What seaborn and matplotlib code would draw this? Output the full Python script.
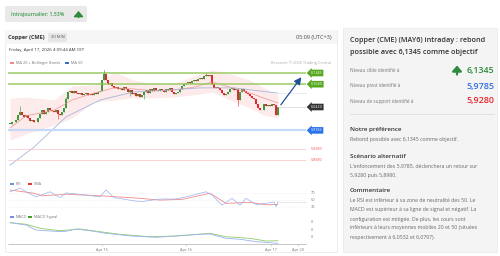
import numpy as np
import pandas as pd
import seaborn as sns
import matplotlib.pyplot as plt
from matplotlib.patches import FancyBboxPatch, Rectangle

sns.set_theme(style="white")
plt.rcParams['font.family'] = ['Open Sans', 'DejaVu Sans']

# ---- data ----
closes = [5.997, 6.002, 6.000, 6.008, 6.019, 6.028, 6.019, 6.014, 6.019, 6.011,
          6.005, 6.008, 6.002, 6.000, 6.011, 6.024, 6.033, 6.022, 6.028, 6.038,
          6.035, 6.031, 6.028, 6.033, 6.024, 6.019, 6.028, 6.038, 6.064, 6.083,
          6.086, 6.080, 6.086, 6.080, 6.078, 6.080, 6.075, 6.078, 6.080, 6.075,
          6.078, 6.075, 6.080, 6.078, 6.083, 6.086, 6.116, 6.133, 6.116, 6.105,
          6.107, 6.099, 6.094, 6.097, 6.091, 6.094, 6.088, 6.097, 6.091, 6.083,
          6.088, 6.078, 6.080, 6.072, 6.078, 6.069, 6.075, 6.083, 6.088, 6.080,
          6.091, 6.086, 6.094, 6.088, 6.086, 6.091, 6.088, 6.083, 6.091, 6.088,
          6.094, 6.083, 6.078, 6.080, 6.083, 6.091, 6.099, 6.105, 6.107, 6.110,
          6.107, 6.113, 6.116, 6.113, 6.118, 6.121, 6.118, 6.126, 6.128, 6.126,
          6.128, 6.105, 6.094, 6.097, 6.094, 6.088, 6.080, 6.075, 6.078, 6.083,
          6.091, 6.094, 6.088, 6.091, 6.061, 6.083, 6.091, 6.086, 6.080, 6.078,
          6.072, 6.067, 6.064, 6.050, 6.038, 6.033, 6.035, 6.050, 6.045, 6.048,
          6.045, 6.050, 6.048, 6.019, 6.042]
wick_high = {5: 6.045, 47: 6.152, 28: 6.070, 98: 6.134}
wick_low = {24: 6.010, 60: 6.072, 114: 6.045, 67: 6.064}

ma_idx = [0, 8, 22, 31, 42, 52, 62, 72, 82, 92, 101, 110, 120, 127, 134]
ma20 = [5.985, 6.018, 6.033, 6.061, 6.080, 6.094, 6.091, 6.086, 6.088, 6.096,
        6.110, 6.096, 6.080, 6.066, 6.053]
bb_upper = [6.066, 6.069, 6.061, 6.099, 6.102, 6.137, 6.115, 6.105, 6.105, 6.126,
            6.143, 6.132, 6.115, 6.094, 6.075]
bb_lower = [5.952, 5.969, 5.993, 6.012, 6.056, 6.061, 6.067, 6.067, 6.069, 6.075,
            6.083, 6.061, 6.039, 6.020, 6.012]
ma50_idx = [0, 12, 28, 45, 62, 78, 95, 112, 134]
ma50 = [5.884, 5.933, 6.015, 6.061, 6.083, 6.088, 6.094, 6.094, 6.0797]

last_price = 6.0420
target, resist = 6.1345, 6.1040
pivot = 5.9785
supports = [5.9280, 5.8980]

rsi_idx = [0, 5, 8, 13, 20, 25, 28, 38, 45, 48, 52, 62, 66, 75, 83, 88, 98, 101,
           106, 111, 115, 118, 123, 128, 132, 133, 134]
rsi_vals = [72, 82, 72, 58, 72, 56, 69, 63, 58, 77, 56, 47, 45, 52, 52, 58, 72, 63,
            35, 54, 35, 54, 37, 40, 44, 31, 45]
sma_idx = [0, 12, 16, 28, 45, 65, 75, 86, 100, 108, 120, 128, 134]
sma_vals = [77, 68, 61, 65, 61, 54, 49, 51, 68, 40, 43, 36, 37]

macd_idx = [0, 8, 13, 20, 27, 33, 41, 48, 61, 73, 83, 95, 100, 108, 115, 123, 134]
macd_vals = [0.0191, 0.016, 0.0093, 0.008, 0.0071, 0.0107, 0.008, 0.0049, 0.0013,
             -0.0004, 0.0013, 0.0036, 0.004, -0.0018, -0.003, -0.0062, -0.0084]
signal_idx = [0, 8, 15, 25, 35, 45, 55, 70, 82, 100, 108, 120, 128, 134]
signal_vals = [0.0191, 0.017, 0.0116, 0.0084, 0.0107, 0.0071, 0.0036, 0.0004,
               0.0013, 0.0049, 0.0004, -0.0018, -0.0053, -0.0049]

date_pos = [46, 88, 130.5, 144]
date_labels = ["Apr 15", "Apr 16", "Apr 17", "Apr 20"]

W, H = 500, 256
fig = plt.figure(figsize=(5, 2.56), dpi=100)
fig.patch.set_facecolor("white")


def box(x0, y0, x1, y1):
    return [x0 / W, 1 - y1 / H, (x1 - x0) / W, (y1 - y0) / H]


def up_arrow(axis, x, y0, y1, col, lw):
    axis.annotate("", xy=(x, y0), xytext=(x, y1),
                  arrowprops=dict(arrowstyle="-|>,head_width=0.7,head_length=0.8",
                                  mutation_scale=4, lw=lw, color=col,
                                  shrinkA=0, shrinkB=0))


# overlay in pixel coordinates
ov = fig.add_axes([0, 0, 1, 1], zorder=0)
ov.set_xlim(0, W)
ov.set_ylim(H, 0)
ov.axis("off")

# badge
ov.add_patch(FancyBboxPatch((5, 6), 82, 16, boxstyle="round,pad=0,rounding_size=2",
                            fc="#e9e9e9", ec="none"))
ov.text(11, 14.3, "Intrajournalier: 1,53%", fontsize=3.7, color="#3d9a4f",
        fontweight="semibold", va="center")
up_arrow(ov, 78.5, 11, 17.5, "#2e8b3d", 1.1)

# left panel
ov.add_patch(Rectangle((5, 30), 332, 222, fc="white", ec="#e6e6e6", lw=0.5))
ov.add_patch(Rectangle((5, 30), 332, 14, fc="#f6f6f6", ec="none"))
ov.text(8, 37.5, "Copper (CME)", fontsize=4, fontweight="bold", color="#333333", va="center")
ov.add_patch(FancyBboxPatch((48, 33), 19, 9, boxstyle="round,pad=0,rounding_size=1",
                            fc="#e6e6e6", ec="none"))
ov.text(57.5, 37.5, "30 MIN", fontsize=3, color="#555555", ha="center", va="center")
ov.text(332, 37.5, "05:09 (UTC+3)", fontsize=4, color="#444444", ha="right", va="center")
ov.text(9, 49.5, "Friday, April 17, 2026 4:09:44 AM CET", fontsize=3.2, color="#333333",
        va="center")
ov.add_patch(Rectangle((10, 62), 4, 2, fc="#f28b82", ec="none"))
ov.text(16, 63, "MA 20 + Bollinger Bands", fontsize=2.8, color="#777777", va="center")
ov.add_patch(Rectangle((65, 62), 4, 2, fc="#3b6cc7", ec="none"))
ov.text(71, 63, "MA 50", fontsize=2.8, color="#777777", va="center")
ov.text(331, 63, "Research \u00a9 2026 Trading Central", fontsize=2.8, color="#aaaaaa",
        ha="right", va="center")

# RSI / MACD legends
ov.add_patch(Rectangle((10, 183), 4, 2, fc="#6f8fe0", ec="none"))
ov.text(16, 184, "RSI", fontsize=2.8, color="#777777", va="center")
ov.add_patch(Rectangle((28, 183), 4, 2, fc="#e53935", ec="none"))
ov.text(34, 184, "SMA", fontsize=2.8, color="#777777", va="center")
ov.add_patch(Rectangle((10, 216), 4, 2, fc="#6f8fe0", ec="none"))
ov.text(16, 217, "MACD", fontsize=2.8, color="#777777", va="center")
ov.add_patch(Rectangle((28, 216), 4, 2, fc="#43a01f", ec="none"))
ov.text(34, 217, "MACD Signal", fontsize=2.8, color="#777777", va="center")

# right panel
ov.add_patch(Rectangle((343, 28), 154, 224, fc="#f4f4f4", ec="#e8e8e8", lw=0.5))
ov.text(350, 40, "Copper (CME) (MAY6) intraday : rebond", fontsize=5.2,
        fontweight="semibold", color="#333333", va="center")
ov.text(350, 52, "possible avec 6,1345 comme objectif", fontsize=5.2,
        fontweight="semibold", color="#333333", va="center")
rows = [("Niveau cible identifi\u00e9 \u00e0", "6,1345", "#2e8b3d", 70),
        ("Niveau pivot identifi\u00e9 \u00e0", "5,9785", "#2f6fe0", 86),
        ("Niveau de support identifi\u00e9 \u00e0", "5,9280", "#e8262b", 101)]
for lab, val, col, y in rows:
    ov.text(350, y, lab, fontsize=3.4, color="#777777", va="center")
    ov.text(494, y, val, fontsize=6.4, color=col, ha="right", va="center",
            fontweight="semibold")
up_arrow(ov, 457, 65.5, 74.5, "#2e8b3d", 1.6)
ov.plot([350, 494], [114, 114], color="#dddddd", lw=0.6)

body = "#666666"
ov.text(350, 129, "Notre pr\u00e9f\u00e9rence", fontsize=4.5, fontweight="semibold",
        color="#333333", va="center")
ov.text(350, 139.5, "Rebond possible avec 6,1345 comme objectif.", fontsize=3.7,
        color=body, va="center")
ov.text(350, 156, "Sc\u00e9nario alternatif", fontsize=4.5, fontweight="semibold",
        color="#333333", va="center")
ov.text(350, 166.5, "L'enfoncement des 5,9785, d\u00e9clenchera un retour sur",
        fontsize=3.7, color=body, va="center")
ov.text(350, 175.5, "5,9280 puis 5,8980.", fontsize=3.7, color=body, va="center")
ov.text(350, 190, "Commentaire", fontsize=4.5, fontweight="semibold",
        color="#333333", va="center")
comment = ["Le RSI est inf\u00e9rieur \u00e0 sa zone de neutralit\u00e9 des 50. Le",
           "MACD est sup\u00e9rieur \u00e0 sa ligne de signal et n\u00e9gatif. La",
           "configuration est mitig\u00e9e. De plus, les cours sont",
           "inf\u00e9rieurs \u00e0 leurs moyennes mobiles 20 et 50 (situ\u00e9es",
           "respectivement \u00e0 6,0532 et 6,0797)."]
for k, line in enumerate(comment):
    ov.text(350, 201 + 9 * k, line, fontsize=3.7, color=body, va="center")

XMIN, XMAX = -1, 162.5
XEND = 148

# ---- price panel ----
ax = fig.add_axes(box(8, 70, 335, 177), zorder=1)
ax.patch.set_alpha(0)
ax.set_xlim(XMIN, XMAX)
ax.set_ylim(5.8518, 6.1426)
ax.axis("off")

df = pd.DataFrame({"idx": np.arange(len(closes)), "close": closes})
df["open"] = df["close"].shift(1).fillna(df["close"])
df["high"] = df[["open", "close"]].max(axis=1)
df["low"] = df[["open", "close"]].min(axis=1)
for k, v in wick_high.items():
    df.loc[k, "high"] = v
for k, v in wick_low.items():
    df.loc[k, "low"] = v

ax.fill_between(ma_idx, bb_lower, bb_upper, color="#fcdada", alpha=0.55, lw=0)
sns.lineplot(x=ma_idx, y=ma20, ax=ax, color="#f4a0a0", lw=0.6)
sns.lineplot(x=ma50_idx, y=ma50, ax=ax, color="#a7b6da", lw=0.6)
ax.plot([ma50_idx[-1], XEND], [ma50[-1], ma50[-1]], color="#e2e6f0", lw=0.6)

ax.hlines([target, resist], XMIN, XEND, color="#9ccc65", lw=1.1)
ax.hlines(pivot, XMIN, XEND, color="#c6d9f7", lw=1.6)
ax.hlines(supports, XMIN, XEND, color="#f8c4c4", lw=0.5)
ax.plot([df["idx"].iloc[-1], XEND], [last_price, last_price], color="#dcdcdc", lw=0.6)

up = df["close"] >= df["open"]
colors = np.where(up, "#3c9a3c", "#e2282c")
ax.vlines(df["idx"], df["low"], df["high"], color=colors, lw=0.4)
heights = (df["close"] - df["open"]).where(lambda s: s.abs() > 0.0008, 0.0008)
ax.bar(df["idx"], heights, bottom=df["open"], width=0.75, color=colors, lw=0)

ax.annotate("", xy=(146.5, 6.129), xytext=(134.6, last_price),
            arrowprops=dict(arrowstyle="-|>,head_width=0.18,head_length=0.35",
                            lw=0.9, color="#1f4e9e"))


def tag(y, text, fc, tc="white"):
    ax.text(150.2, y, text, fontsize=2.7, color=tc, va="center", ha="left",
            bbox=dict(boxstyle="larrow,pad=0.35", fc=fc, ec="none") if fc else None)


tag(target, "6.1345", "#55a81f")
tag(resist, "6.1040", "#55a81f")
tag(last_price, "6.0420", "#333333")
tag(pivot, "5.9785", "#2a74e8")
tag(supports[0], "5.9280", None, "#ef5350")
tag(supports[1], "5.8980", None, "#ef5350")

# ---- RSI panel ----
ar = fig.add_axes(box(8, 180, 335, 210), zorder=1)
ar.patch.set_alpha(0)
ar.set_xlim(XMIN, XMAX)
ar.set_ylim(21.7, 104.5)
ar.axis("off")
ar.hlines([70, 50, 30], XMIN, XEND, color="#e4e4e4", lw=0.4, linestyles=":")
ar.plot([rsi_idx[-1], XEND], [rsi_vals[-1], rsi_vals[-1]], color="#dddddd", lw=0.5)
sns.lineplot(x=sma_idx, y=sma_vals, ax=ar, color="#f08a8a", lw=0.6)
sns.lineplot(x=rsi_idx, y=rsi_vals, ax=ar, color="#9bb3ec", lw=0.5)
for v in [70, 50, 30]:
    ar.text(150.5, v, str(v), fontsize=2.8, color="#777777", va="center")

# ---- MACD panel ----
am = fig.add_axes(box(8, 211, 335, 244), zorder=1)
am.patch.set_alpha(0)
am.set_xlim(XMIN, XMAX)
am.set_ylim(-0.0093, 0.0347)
for s in am.spines.values():
    s.set_visible(False)
am.set_yticks([])
am.hlines(-0.0093, XMIN, XEND, color="#bbbbbb", lw=0.6, clip_on=False)
sns.lineplot(x=signal_idx, y=signal_vals, ax=am, color="#8fca6a", lw=0.6)
sns.lineplot(x=macd_idx, y=macd_vals, ax=am, color="#9bb3ec", lw=0.6)
for v in [0.02, 0.01, 0.0]:
    am.text(150.5, v, "0", fontsize=2.8, color="#777777", va="center")
am.set_xticks(date_pos)
am.set_xticklabels(date_labels, fontsize=2.8, color="#777777")
am.tick_params(axis="x", length=1.5, width=0.4, color="#bbbbbb", pad=1.2, bottom=True)
am.set_xlabel("")
am.set_ylabel("")

fig.savefig("out.png", dpi=100)
